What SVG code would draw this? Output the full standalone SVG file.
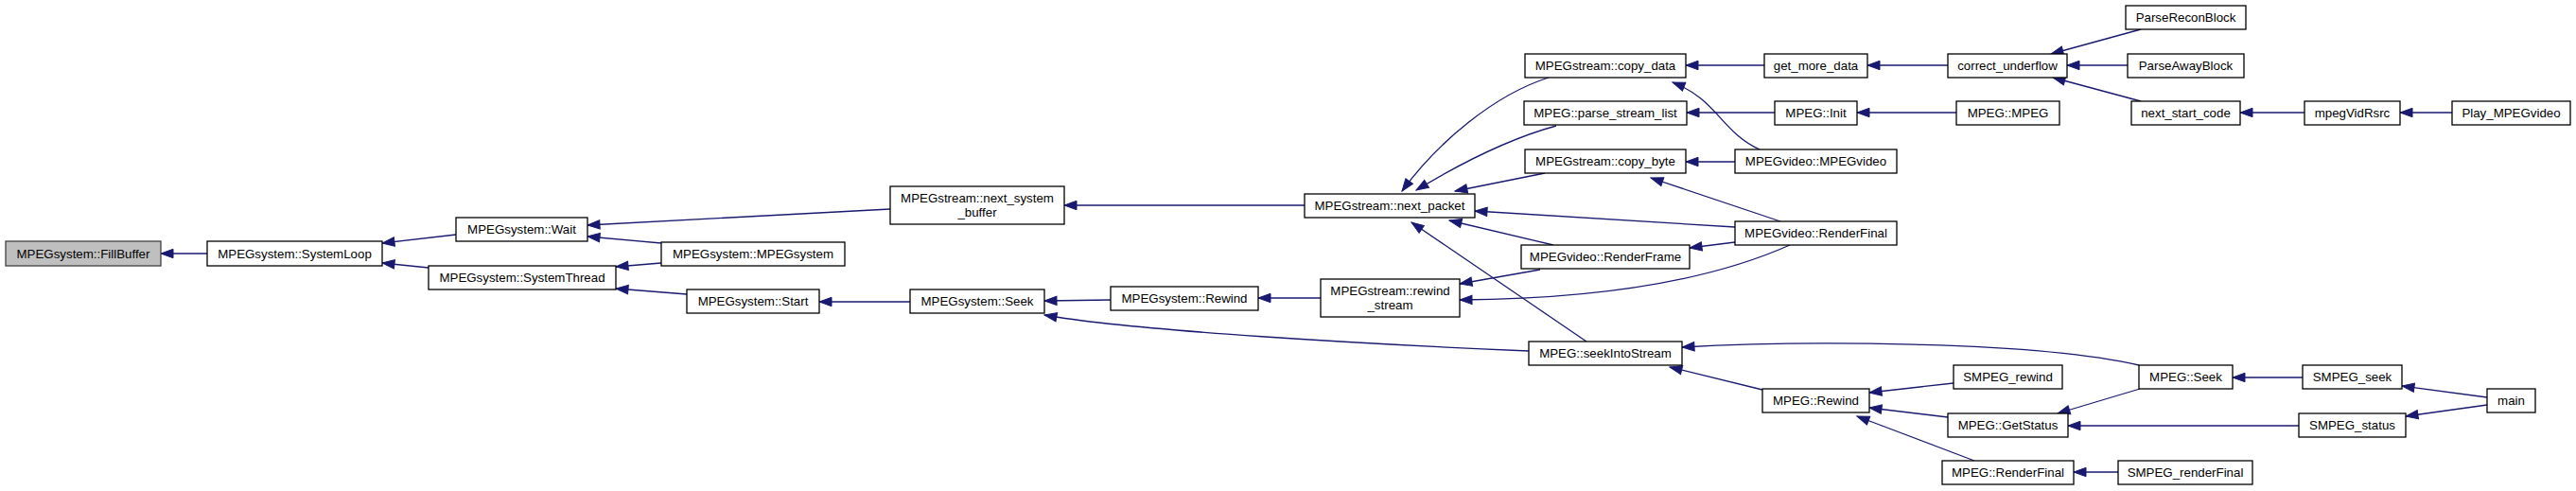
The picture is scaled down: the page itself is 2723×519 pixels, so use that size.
<svg xmlns="http://www.w3.org/2000/svg" width="2723" height="519" viewBox="0 0 2723 519">
<style>
.node rect{fill:#ffffff;stroke:#000000;stroke-width:1.3}
.node.cur rect{fill:#bfbfbf;stroke:#404040}
.node text{font-family:"Liberation Sans",Arial,Helvetica,sans-serif;font-size:13.3px;fill:#000000;text-anchor:middle}
.edges path{fill:none;stroke:#191970;stroke-width:1.3;marker-start:url(#ah)}
</style>
<defs>
<marker id="ah" markerUnits="userSpaceOnUse" markerWidth="16" markerHeight="12" viewBox="-1 -1 16 12" refX="13" refY="5" orient="auto-start-reverse">
<path d="M0,0.3 L13,5 L0,9.7 z" fill="#191970" stroke="#191970" stroke-width="1"/>
</marker>
</defs>
<rect x="0" y="0" width="2723" height="519" fill="#ffffff"/>
<g id="edges" class="edges">
<path d="M170,268 L219,268"/>
<path d="M404,257 L482,248"/>
<path d="M404,278 L453,283"/>
<path d="M621,238 L941,221"/>
<path d="M621,250 L699,257"/>
<path d="M651,282 L699,278"/>
<path d="M651,305 L726,311"/>
<path d="M866,319 L962,319"/>
<path d="M1104,318 L1174,317"/>
<path d="M1104,333 C1200,350 1450,364 1616,371"/>
<path d="M1125,217 L1379,217"/>
<path d="M1330,315 L1396,315"/>
<path d="M1482,202 C1520,150 1580,100 1637,82"/>
<path d="M1497,201 C1540,175 1590,148 1645,133"/>
<path d="M1538,202 L1633,183"/>
<path d="M1559,223 L1834,240"/>
<path d="M1532,233 L1642,259"/>
<path d="M1492,235 L1677,361"/>
<path d="M1543,300 L1628,285"/>
<path d="M1543,317 C1680,316 1800,300 1892,259"/>
<path d="M1786,262 L1834,256"/>
<path d="M1782,171 L1834,171"/>
<path d="M1782,69 L1865,69"/>
<path d="M1783,119 L1876,119"/>
<path d="M1745,188 L1882,234"/>
<path d="M1768,87 C1815,105 1820,140 1860,158"/>
<path d="M1974,69 L2059,69"/>
<path d="M1963,119 L2068,119"/>
<path d="M2168,57 L2263,31"/>
<path d="M2185,69 L2249,69"/>
<path d="M2170,82 L2263,107"/>
<path d="M2368,119 L2436,119"/>
<path d="M2537,119 L2592,119"/>
<path d="M1778,367 C1900,360 2150,360 2261,386"/>
<path d="M1765,388 L1863,412"/>
<path d="M1976,415 L2065,405"/>
<path d="M1976,431 L2059,441"/>
<path d="M1963,440 L2087,487"/>
<path d="M2175,437 L2262,411"/>
<path d="M2186,450 L2430,450"/>
<path d="M2192,499 L2239,499"/>
<path d="M2360,399 L2434,399"/>
<path d="M2539,408 L2629,420"/>
<path d="M2543,440 L2629,428"/>
</g>
<g id="n_FillBuffer" class="node cur"><rect x="6" y="255" width="164" height="26"/><text x="88" y="272.5">MPEGsystem::FillBuffer</text></g>
<g id="n_SystemLoop" class="node"><rect x="219" y="255" width="185" height="26"/><text x="311.5" y="272.5">MPEGsystem::SystemLoop</text></g>
<g id="n_Wait" class="node"><rect x="482" y="230" width="139" height="25"/><text x="551.5" y="246.8">MPEGsystem::Wait</text></g>
<g id="n_MPEGsystem" class="node"><rect x="699" y="256" width="194" height="25"/><text x="796" y="272.5">MPEGsystem::MPEGsystem</text></g>
<g id="n_SystemThread" class="node"><rect x="453" y="281" width="198" height="25"/><text x="552" y="297.8">MPEGsystem::SystemThread</text></g>
<g id="n_Start" class="node"><rect x="726" y="306" width="140" height="25"/><text x="796" y="322.8">MPEGsystem::Start</text></g>
<g id="n_next_system_buffer" class="node"><rect x="941" y="197" width="184" height="40"/><text x="1033" y="214">MPEGstream::next_system</text><text x="1033" y="229">_buffer</text></g>
<g id="n_sys_Seek" class="node"><rect x="962" y="306" width="142" height="25"/><text x="1033" y="322.8">MPEGsystem::Seek</text></g>
<g id="n_sys_Rewind" class="node"><rect x="1174" y="303" width="156" height="25"/><text x="1252" y="319.8">MPEGsystem::Rewind</text></g>
<g id="n_next_packet" class="node"><rect x="1379" y="205" width="180" height="25"/><text x="1469" y="221.8">MPEGstream::next_packet</text></g>
<g id="n_rewind_stream" class="node"><rect x="1396" y="295" width="147" height="40"/><text x="1469.5" y="311.5">MPEGstream::rewind</text><text x="1469.5" y="326.5">_stream</text></g>
<g id="n_copy_data" class="node"><rect x="1612" y="57" width="170" height="25"/><text x="1697" y="73.8">MPEGstream::copy_data</text></g>
<g id="n_parse_stream_list" class="node"><rect x="1611" y="107" width="172" height="25"/><text x="1697" y="123.8">MPEG::parse_stream_list</text></g>
<g id="n_copy_byte" class="node"><rect x="1612" y="158" width="170" height="25"/><text x="1697" y="174.8">MPEGstream::copy_byte</text></g>
<g id="n_RenderFrame" class="node"><rect x="1608" y="259" width="178" height="25"/><text x="1697" y="275.8">MPEGvideo::RenderFrame</text></g>
<g id="n_seekIntoStream" class="node"><rect x="1616" y="361" width="162" height="25"/><text x="1697" y="377.8">MPEG::seekIntoStream</text></g>
<g id="n_get_more_data" class="node"><rect x="1865" y="57" width="109" height="25"/><text x="1919.5" y="73.8">get_more_data</text></g>
<g id="n_Init" class="node"><rect x="1876" y="107" width="87" height="25"/><text x="1919.5" y="123.8">MPEG::Init</text></g>
<g id="n_MPEGvideo" class="node"><rect x="1834" y="158" width="171" height="25"/><text x="1919.5" y="174.8">MPEGvideo::MPEGvideo</text></g>
<g id="n_video_RenderFinal" class="node"><rect x="1834" y="234" width="171" height="25"/><text x="1919.5" y="250.8">MPEGvideo::RenderFinal</text></g>
<g id="n_MPEG_Rewind" class="node"><rect x="1863" y="411" width="113" height="25"/><text x="1919.5" y="427.8">MPEG::Rewind</text></g>
<g id="n_correct_underflow" class="node"><rect x="2059" y="57" width="126" height="25"/><text x="2122" y="73.8">correct_underflow</text></g>
<g id="n_MPEG_MPEG" class="node"><rect x="2068" y="107" width="109" height="25"/><text x="2122.5" y="123.8">MPEG::MPEG</text></g>
<g id="n_SMPEG_rewind" class="node"><rect x="2065" y="386" width="115" height="25"/><text x="2122.5" y="402.8">SMPEG_rewind</text></g>
<g id="n_GetStatus" class="node"><rect x="2059" y="437" width="127" height="25"/><text x="2122.5" y="453.8">MPEG::GetStatus</text></g>
<g id="n_MPEG_RenderFinal" class="node"><rect x="2053" y="487" width="139" height="25"/><text x="2122.5" y="503.8">MPEG::RenderFinal</text></g>
<g id="n_ParseReconBlock" class="node"><rect x="2247" y="6" width="127" height="25"/><text x="2310.5" y="22.8">ParseReconBlock</text></g>
<g id="n_ParseAwayBlock" class="node"><rect x="2249" y="57" width="123" height="25"/><text x="2310.5" y="73.8">ParseAwayBlock</text></g>
<g id="n_next_start_code" class="node"><rect x="2253" y="107" width="115" height="25"/><text x="2310.5" y="123.8">next_start_code</text></g>
<g id="n_MPEG_Seek" class="node"><rect x="2261" y="386" width="99" height="25"/><text x="2310.5" y="402.8">MPEG::Seek</text></g>
<g id="n_SMPEG_renderFinal" class="node"><rect x="2239" y="487" width="142" height="25"/><text x="2310" y="503.8">SMPEG_renderFinal</text></g>
<g id="n_mpegVidRsrc" class="node"><rect x="2436" y="107" width="101" height="25"/><text x="2486.5" y="123.8">mpegVidRsrc</text></g>
<g id="n_SMPEG_seek" class="node"><rect x="2434" y="386" width="105" height="25"/><text x="2486.5" y="402.8">SMPEG_seek</text></g>
<g id="n_SMPEG_status" class="node"><rect x="2430" y="437" width="113" height="25"/><text x="2486.5" y="453.8">SMPEG_status</text></g>
<g id="n_Play_MPEGvideo" class="node"><rect x="2592" y="107" width="125" height="25"/><text x="2654.5" y="123.8">Play_MPEGvideo</text></g>
<g id="n_main" class="node"><rect x="2629" y="411" width="51" height="25"/><text x="2654.5" y="427.8">main</text></g>
</svg>
